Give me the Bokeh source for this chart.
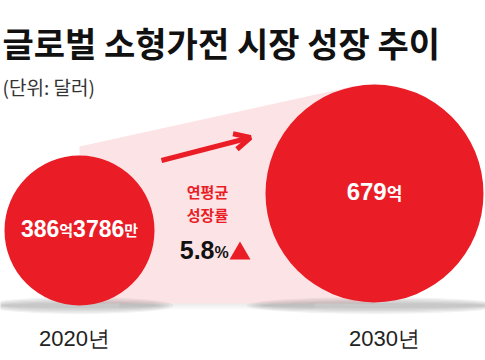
import re
from bokeh.plotting import figure
from bokeh.models import Range1d, Arrow, OpenHead, ColumnDataSource
from bokeh.core.properties import value
from bokeh.embed import file_html
from bokeh.resources import INLINE

# ---------------- data ----------------
title = "글로벌 소형가전 시장 성장 추이"
unit = "(단위: 달러)"
years = ["2020년", "2030년"]
market_eok = [386.3786, 679.0]          # 억 달러
value_labels = ["386억3786만", "679억"]
cagr_label = ["연평균", "성장률"]
cagr_value = ["5.8", "%"]

# ---------------- layout / style constants ----------------
RED = "#ea1d27"
PINK = "#fce3e5"
KR = "Noto Sans CJK KR"
NUM = "Liberation Sans"
centers_x = [79, 374]
centers_y = [230, 193]
radii = [75, 109]
label_y = [227.5, 190.5]
big_fs = [23, 24]
small_fs = [15, 17]

W, H = 485, 360
p = figure(width=W, height=H, output_backend="svg", toolbar_location=None,
           x_range=Range1d(0, W), y_range=Range1d(H, 0), min_border=0)
p.axis.visible = False
p.grid.visible = False
p.outline_line_color = None
p.background_fill_color = "white"
p.border_fill_color = "white"

# pink connector
p.patch([centers_x[0], centers_x[0], 352, centers_x[1], centers_x[1]],
        [303, 146, 86, 84, 303], fill_color=PINK, line_color=None)

# shadows (stacked soft ellipses)
for cx, r in zip(centers_x, radii):
    for k in range(5):
        p.ellipse(x=cx, y=305, width=2 * r + 6 + k * 8, height=5 + k * 3,
                  fill_color="#6f6f6f", fill_alpha=0.09, line_color=None)
for k in range(3):
    p.quad(left=[centers_x[0] + 40], right=[centers_x[1] - 60], top=[303], bottom=[305 + 2 * k],
           fill_color="#9a9a9a", fill_alpha=0.06, line_color=None)

# circles
src = ColumnDataSource(dict(x=centers_x, y=centers_y, r=radii, v=market_eok))
p.circle(x="x", y="y", radius="r", source=src, fill_color=RED, line_color=None)

# value labels inside circles (numbers big, Korean units small)
def est_w(s, fs):
    w = 0
    for ch in s:
        if ch.isdigit():
            w += 0.556 * fs
        elif ch == ".":
            w += 0.278 * fs
        else:
            w += 0.92 * fs
    return w

for lab, cx, ly, bf, sf in zip(value_labels, centers_x, label_y, big_fs, small_fs):
    parts = re.findall(r"\d+|\D+", lab)
    sizes = [bf if pt[0].isdigit() else sf for pt in parts]
    widths = [est_w(pt, fs) for pt, fs in zip(parts, sizes)]
    x0 = cx - sum(widths) / 2
    for pt, fs, w in zip(parts, sizes, widths):
        is_num = pt[0].isdigit()
        p.text(x=[x0], y=[ly if is_num else ly + 1], text=[pt],
               text_font=value(NUM if is_num else KR),
               text_font_size=f"{fs}px", text_font_style="bold", text_color="white",
               text_align="left", text_baseline="middle")
        x0 += w

# arrow
p.add_layout(Arrow(end=OpenHead(line_color=RED, line_width=5, size=16),
                   x_start=161, y_start=160, x_end=250, y_end=137,
                   line_color=RED, line_width=5))

# CAGR text
p.text(x=[207, 207], y=[191, 214], text=cagr_label, text_font=value(KR),
       text_font_size="15px", text_font_style="bold", text_color=RED,
       text_align="center", text_baseline="middle")
p.text(x=[214], y=[249], text=[cagr_value[0]], text_font=value(NUM),
       text_font_size="25px", text_font_style="bold", text_color="#111111",
       text_align="right", text_baseline="middle")
p.text(x=[214], y=[251.5], text=[cagr_value[1]], text_font=value(NUM),
       text_font_size="16px", text_font_style="bold", text_color="#111111",
       text_align="left", text_baseline="middle")
p.scatter(x=[239.5], y=[253], marker="triangle", size=21, fill_color=RED, line_color=None)

# year labels
p.text(x=[74, 384], y=[337.5, 337.5], text=years, text_font=value(NUM),
       text_font_size="22px", text_color="#222222",
       text_align="center", text_baseline="middle")

# title & unit
p.text(x=[2], y=[42], text=[title], text_font=value(KR), text_font_size="34px",
       text_font_style="bold", text_color="#111111", text_align="left", text_baseline="middle")
p.text(x=[2], y=[86], text=[unit], text_font=value(KR), text_font_size="19px",
       text_color="#333333", text_align="left", text_baseline="middle")

open("out.html", "w").write(file_html(p, INLINE))
